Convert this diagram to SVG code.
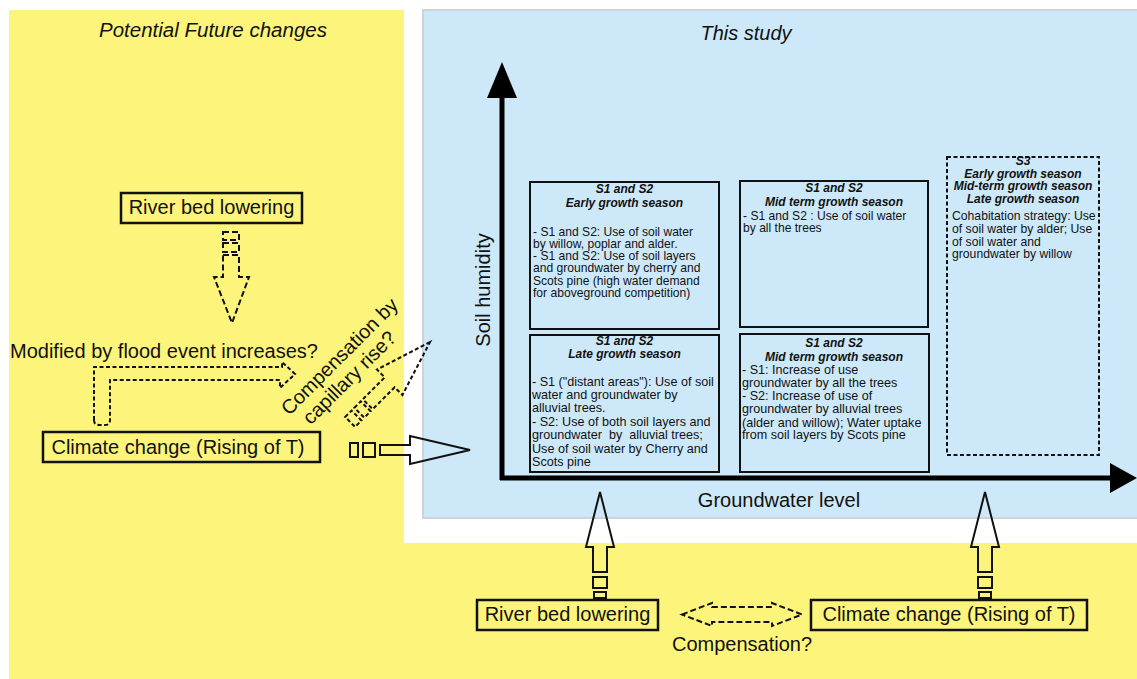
<svg xmlns="http://www.w3.org/2000/svg" width="1137" height="679" viewBox="0 0 1137 679">
<style>
.t{font-family:"Liberation Sans",Arial,Helvetica,sans-serif;fill:#111}
.big{font-size:20px}
.it{font-style:italic}
.mid{text-anchor:middle}
.ti{font-size:12px;font-weight:bold;font-style:italic;text-anchor:middle}
.b12{font-size:12.1px}
.b125{font-size:12.6px}
.box{fill:none;stroke:#111;stroke-width:2}
.ybox{fill:none;stroke:#111;stroke-width:2.5}
.hollow{fill:none;stroke:#111;stroke-width:2}
.dash{fill:none;stroke:#111;stroke-width:2;stroke-dasharray:6 3}
.dot{fill:none;stroke:#111;stroke-width:2;stroke-dasharray:4 2.5}
.axis{stroke:#000;stroke-width:5}
</style>
<g id="backgrounds">
<rect x="9" y="10" width="395" height="669" fill="#fdf57b"/>
<rect x="404" y="543" width="733" height="136" fill="#fdf57b"/>
<rect x="423" y="10" width="716" height="508" fill="#cde9f9" stroke="#d0d3d6" stroke-width="2"/>
</g>
<g id="titles">
<text class="t it mid" font-size="20.5" x="213" y="37">Potential Future changes</text>
<text class="t big it mid" x="746" y="40">This study</text>
<text class="t big mid" transform="translate(490,290) rotate(-90)">Soil humidity</text>
<text class="t big mid" x="779" y="507">Groundwater level</text>
<text class="t big" x="10" y="358">Modified by flood event increases?</text>
<text class="t big mid" transform="translate(347,364) rotate(-45)"><tspan x="0" y="-4">Compensation by</tspan><tspan x="-8" y="18">capillary rise?</tspan></text>
<text class="t big mid" x="742" y="651">Compensation?</text>
</g>
<g id="connectors">
<line class="axis" x1="502" y1="92" x2="502" y2="480"/>
<polygon points="502,62 517,98 487,98" fill="#000"/>
<line class="axis" x1="500" y1="478" x2="1114" y2="478"/>
<polygon points="1137,478 1110,463 1110,493" fill="#000"/>
<g id="arrow-river-down" class="dash">
<rect x="223" y="232" width="16" height="8"/>
<rect x="223" y="243" width="16" height="9"/>
<polygon points="223,255 239,255 239,277 249,277 232,323 214,277 223,277"/>
</g>
<path id="arrow-flood" class="dot" d="M94,420 L94,367 L282,367 L282,362 L295,374 L280,388 L280,380 L110,380 L110,420 Q110,425 105,425 L99,425 Q94,425 94,420 Z"/>
<g id="arrow-capillary" class="dot" transform="translate(430,342) rotate(-45)">
<polygon points="0,0 -57,-18 -57,-7 -88,-7 -88,7 -57,7 -57,18"/>
<rect x="-100" y="-7" width="9" height="14"/>
<rect x="-113" y="-7" width="9" height="14"/>
</g>
<g id="arrow-climate-right" class="hollow">
<rect x="350" y="443" width="8" height="14"/>
<rect x="363" y="443" width="12" height="14"/>
<polygon points="380,445 410,445 410,436 470,450 410,464 410,455 380,455"/>
</g>
<g id="arrow-river-up" class="hollow">
<polygon points="600,492 614,547 607,547 607,572 593,572 593,547 586,547"/>
<rect x="593" y="577" width="14" height="11"/>
<rect x="594" y="592" width="12" height="6"/>
</g>
<g id="arrow-climate-up" class="hollow">
<polygon points="985,492 999,547 992,547 992,572 978,572 978,547 971,547"/>
<rect x="978" y="577" width="14" height="11"/>
<rect x="979" y="592" width="12" height="6"/>
</g>
<polygon id="arrow-compensation" class="dash" points="682,614.5 712,603 712,607 772,607 772,603 802,614.5 772,626 772,622 712,622 712,626"/>
</g>
<g id="node-river-top">
<rect class="ybox" x="121" y="193" width="181" height="30"/>
<text class="t big mid" x="211.5" y="214">River bed lowering</text>
</g>
<g id="node-climate-left">
<rect class="ybox" x="43" y="432" width="277" height="30"/>
<text class="t big mid" x="178" y="454">Climate change (Rising of T)</text>
</g>
<g id="node-river-bottom">
<rect class="ybox" x="477" y="600" width="181" height="30"/>
<text class="t big mid" x="567.5" y="621">River bed lowering</text>
</g>
<g id="node-climate-bottom">
<rect class="ybox" x="811" y="600" width="276" height="30"/>
<text class="t big mid" x="949" y="621">Climate change (Rising of T)</text>
</g>
<g id="node-early">
<rect class="box" x="530" y="182" width="189" height="147"/>
<text class="t ti"><tspan x="624.5" y="193">S1 and S2</tspan><tspan x="624.5" y="207">Early growth season</tspan></text>
<text class="t b12"><tspan x="533" y="235.5">- S1 and S2: Use of soil water</tspan><tspan x="533" y="247.8">by willow, poplar and alder.</tspan><tspan x="533" y="260.1">- S1 and S2: Use of soil layers</tspan><tspan x="533" y="272.4">and groundwater by cherry and</tspan><tspan x="533" y="284.7">Scots pine (high water demand</tspan><tspan x="533" y="297">for aboveground competition)</tspan></text>
</g>
<g id="node-midterm-top">
<rect class="box" x="740" y="181" width="188" height="146"/>
<text class="t ti"><tspan x="834" y="192">S1 and S2</tspan><tspan x="834" y="206">Mid term growth season</tspan></text>
<text class="t b12"><tspan x="743" y="220">- S1 and S2 : Use of soil water</tspan><tspan x="743" y="232.3">by all the trees</tspan></text>
</g>
<g id="node-s3">
<rect class="dot" x="947" y="157" width="152" height="298"/>
<text class="t ti"><tspan x="1023" y="165">S3</tspan><tspan x="1023" y="177.5">Early growth season</tspan><tspan x="1023" y="190">Mid-term growth season</tspan><tspan x="1023" y="203">Late growth season</tspan></text>
<text class="t" font-size="12.2"><tspan x="952" y="220">Cohabitation strategy: Use</tspan><tspan x="952" y="233">of soil water by alder; Use</tspan><tspan x="952" y="245.5">of soil water and</tspan><tspan x="952" y="258">groundwater by willow</tspan></text>
</g>
<g id="node-late">
<rect class="box" x="530" y="335" width="189" height="137"/>
<text class="t ti"><tspan x="624.5" y="345">S1 and S2</tspan><tspan x="624.5" y="358">Late growth season</tspan></text>
<text class="t b125" xml:space="preserve"><tspan x="532" y="386">- S1 ("distant areas"): Use of soil</tspan><tspan x="532" y="399">water and groundwater by</tspan><tspan x="532" y="412">alluvial trees.</tspan><tspan x="532" y="426">- S2: Use of both soil layers and</tspan><tspan x="532" y="439">groundwater  by  alluvial trees;</tspan><tspan x="532" y="453">Use of soil water by Cherry and</tspan><tspan x="532" y="466">Scots pine</tspan></text>
</g>
<g id="node-midterm-bottom">
<rect class="box" x="740" y="334" width="189" height="138"/>
<text class="t ti"><tspan x="834" y="347">S1 and S2</tspan><tspan x="834" y="361">Mid term growth season</tspan></text>
<text class="t b125"><tspan x="742" y="374">- S1: Increase of use</tspan><tspan x="742" y="387">groundwater by all the trees</tspan><tspan x="742" y="400">- S2: Increase of use of</tspan><tspan x="742" y="413">groundwater by alluvial trees</tspan><tspan x="742" y="427">(alder and willow); Water uptake</tspan><tspan x="742" y="439">from soil layers by Scots pine</tspan></text>
</g>
</svg>
